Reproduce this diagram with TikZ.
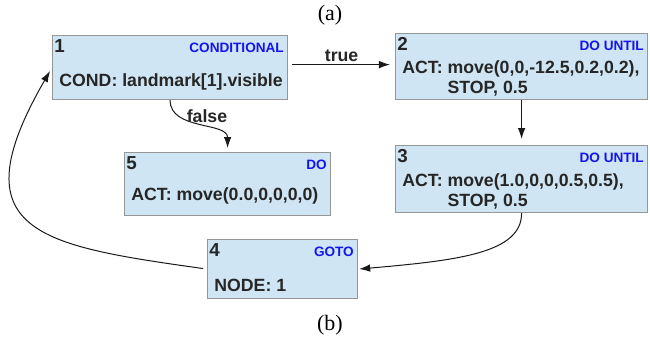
\documentclass[tikz,border=0pt]{standalone}
\usepackage{fontspec}
\setmainfont{Liberation Sans}
\newfontfamily\capfont{Liberation Serif}
\usetikzlibrary{arrows.meta}
\definecolor{blkfill}{RGB}{207,229,243}
\definecolor{blkline}{RGB}{150,150,150}
\definecolor{typeblue}{RGB}{20,20,240}
\colorlet{txtdark}{black!85}
\tikzset{>={Latex[length=5.5pt,width=3.8pt]}}
\tikzset{
  blk/.style={draw=blkline,fill=blkfill,line width=0.6pt,inner sep=0pt},
  numtxt/.style={inner sep=0pt,font=\fontsize{9.4}{10}\selectfont\bfseries,text=txtdark},
  typetxt/.style={inner sep=0pt,font=\fontsize{6.8}{8}\selectfont\bfseries,text=typeblue},
  bodytxt/.style={inner sep=0pt,font=\fontsize{8.85}{10}\selectfont\bfseries,text=txtdark},
  link/.style={->,line width=0.5pt,black!90},
  linklbl/.style={inner sep=1pt,font=\fontsize{8.85}{10}\selectfont\bfseries,text=txtdark},
  captxt/.style={inner sep=0pt,font=\capfont\fontsize{11}{12}\selectfont}
}
% name, corner, width, height, number, kind, body baseline, body
\newcommand{\flowblk}[8]{%
  \node[blk,anchor=north west,minimum width=#3*0.5pt,minimum height=#4*0.5pt] (#1) at (#2) {};
  \node[numtxt,anchor=base west] (#1num) at ([shift={(2,17)}]#1.north west) {#5};
  \node[typetxt,anchor=base east] (#1type) at ([shift={(-4,17)}]#1.north east) {#6};
  \node[bodytxt,anchor=base west] (#1body) at ([shift={(7,#7)}]#1.north west) {#8};
}

\begin{document}
\begin{tikzpicture}[x=0.5pt,y=-0.5pt]
  \useasboundingbox (0,0) rectangle (650,339);

  % BLOCKS
  \flowblk{b1}{52,35}{235}{64}{1}{CONDITIONAL}{51}{COND: landmark[1].visible}
  \flowblk{b2}{395,33}{252}{66}{2}{DO UNTIL}{40}%
    {\begin{tabular}[t]{@{}l@{}}ACT: move(0,0,-12.5,0.2,0.2),\\\phantom{ACT: }STOP, 0.5\end{tabular}}
  \flowblk{b3}{395,145}{252}{67}{3}{DO UNTIL}{41}%
    {\begin{tabular}[t]{@{}l@{}}ACT: move(1.0,0,0,0.5,0.5),\\\phantom{ACT: }STOP, 0.5\end{tabular}}
  \flowblk{b5}{124,152}{206}{63}{5}{DO}{48}{ACT: move(0.0,0,0,0,0)}
  \flowblk{b4}{207,239}{150}{59}{4}{GOTO}{52}{NODE: 1}

  % CAPTIONS
  \node[captxt] (capa) at (330,15) {(a)};
  \node[captxt] (capb) at (330,325) {(b)};

  % LINKS
  \coordinate (t1) at ([yshift=1.5pt]b1.east);
  \draw[link,shorten <=2pt,shorten >=2.5pt] (t1) -- (t1 -| b2.west)
    node[linklbl,midway,above] (ltrue) {true};
  \draw[link,shorten >=2pt] (b1.south) to[out=-90,in=90]
    node[linklbl,pos=0.4,above right,inner sep=0pt,xshift=-2pt] (lfalse) {false} (b5.north);
  \draw[link,shorten >=3pt] (b2.south) -- (b3.north);
  \draw[link,shorten >=0.5pt] (b3.south)
    to[out=-90,in=5,out distance=20pt,in distance=50pt] (b4.east);
  \draw[link,shorten <=2pt,shorten >=2pt] (b4.west)
    to[out=172,in=-120,out distance=85pt,in distance=95pt] (b1.west);
\end{tikzpicture}
\end{document}
